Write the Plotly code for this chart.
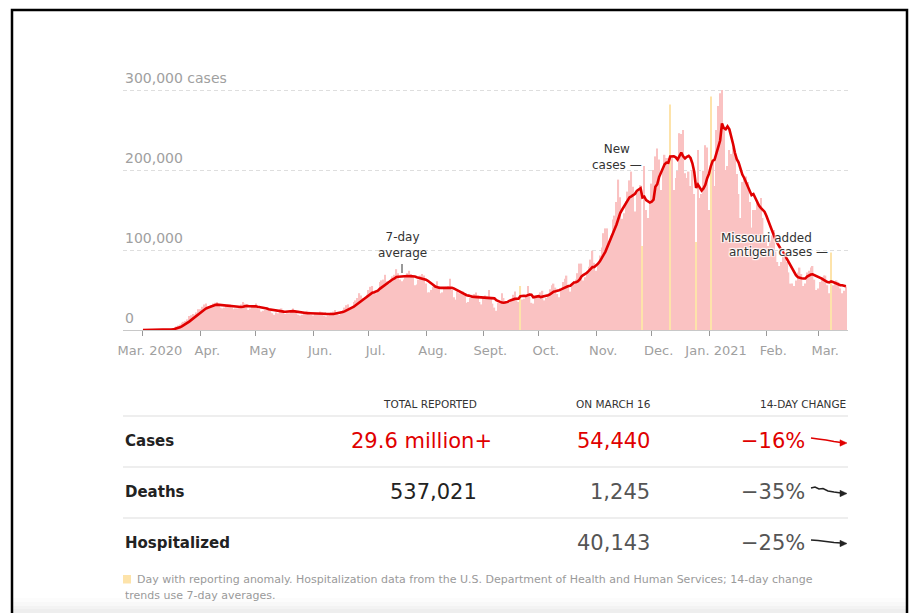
import numpy as np
import pandas as pd
import plotly.graph_objects as go

# ---------------- data (daily new cases, thousands) ----------------
mar20 = [0, 0, 0, 0, 0.1, 0.1, 0.1, 0.1, 0.2, 0.3, 0.4, 0.5, 0.6, 0.8, 0.9, 1.2, 1.8, 2.6, 4.5, 5.6, 6.8,
         9, 10.2, 11.3, 13.2, 17.5, 18.5, 20, 19.5, 22, 26]
apr20 = [26, 29, 32, 33, 27, 29, 31, 33, 34, 35, 31, 28, 27, 28, 30, 32, 32, 28, 26, 27,
         27, 29, 32, 35, 33, 28, 25, 27, 30, 31]
may20 = [33, 29, 26, 23, 24, 25, 28, 27, 26, 21, 19, 22, 21, 26, 27, 25, 20, 21, 21, 24,
         27, 25, 22, 19, 18, 19, 21, 23, 24, 23, 19]
jun20 = [18, 20, 20, 21, 23, 22, 18, 17, 18, 20, 22, 23, 25, 20, 19, 23, 25, 28, 31, 32,
         26, 27, 35, 37, 40, 46, 43, 40, 41, 44]
jul20 = [50, 54, 55, 47, 46, 48, 60, 62, 63, 69, 61, 58, 64, 67, 69, 76, 71, 63, 61, 63,
         68, 71, 74, 70, 66, 56, 57, 63, 68, 70, 68]
aug20 = [58, 47, 47, 50, 54, 56, 61, 55, 46, 47, 53, 54, 55, 64, 50, 41, 38, 48, 46, 46,
         48, 44, 34, 35, 40, 44, 45, 47, 43, 35, 32]
sep20 = [40, 43, 42, 50, 41, 33, 28, 24, 34, 34, 46, 40, 34, 33, 34, 39, 44, 48, 41, 35,
         55, 38, 39, 42, 55, 46, 34, 33, 41, 43]
oct20 = [44, 47, 49, 37, 40, 44, 51, 56, 58, 53, 45, 41, 51, 60, 64, 68, 56, 48, 58, 61,
         63, 71, 83, 83, 62, 66, 73, 79, 88, 99, 84]
nov20 = [74, 84, 93, 103, 121, 127, 127, 110, 118, 138, 143, 160, 188, 166, 139, 146, 161, 173, 187, 198,
         179, 148, 172, 176, 181, 105, 205, 150, 140, 158]
dec20 = [183, 200, 217, 227, 213, 175, 199, 219, 215, 215, 282, 215, 175, 190, 199, 246, 245, 250, 196, 190,
         198, 180, 200, 170, 110, 225, 165, 170, 199, 231, 228]
jan21 = [150, 292, 210, 180, 250, 280, 296, 300, 250, 200, 205, 225, 220, 228, 222, 195, 170, 140, 185, 190,
         192, 185, 160, 128, 150, 150, 160, 155, 165, 140, 115]
feb21 = [115, 105, 112, 118, 125, 98, 85, 80, 85, 92, 90, 85, 72, 58, 58, 55, 62, 72, 78, 70,
         55, 58, 72, 74, 78, 80, 63, 50]
mar21 = [52, 60, 66, 68, 68, 56, 46, 97, 56, 60, 62, 60, 52, 46, 49, 54.44]

anomaly_days = ["2020-09-21", "2020-11-26", "2020-12-11", "2020-12-25", "2021-01-02", "2021-03-08"]
backlog_days = ["2021-03-08"]  # backlog dump left out of the 7-day average

month_ticks = ["2020-03-01", "2020-04-01", "2020-05-01", "2020-06-01", "2020-07-01", "2020-08-01",
               "2020-09-01", "2020-10-01", "2020-11-01", "2020-12-01", "2021-01-01", "2021-02-01",
               "2021-03-01"]
month_labels = ["Mar. 2020", "Apr.", "May", "Jun.", "Jul.", "Aug.", "Sept.", "Oct.", "Nov.", "Dec.",
                "Jan. 2021", "Feb.", "Mar."]

y_ticks = [0, 100000, 200000, 300000]
y_labels = ["0", "100,000", "200,000", "300,000 cases"]

table_headers = ["TOTAL REPORTED", "ON MARCH 16", "14-DAY CHANGE"]
row_labels = ["Cases", "Deaths", "Hospitalized"]
totals = ["29.6 million+", "537,021", ""]
on_date = ["54,440", "1,245", "40,143"]
changes = ["\u221216%", "\u221235%", "\u221225%"]

footnote1 = "Day with reporting anomaly. Hospitalization data from the U.S. Department of Health and Human Services; 14-day change"
footnote2 = "trends use 7-day averages."

# ---------------- derived ----------------
daily = np.array(mar20 + apr20 + may20 + jun20 + jul20 + aug20 + sep20 + oct20 + nov20 + dec20
                 + jan21 + feb21 + mar21) * 1000
dates = pd.date_range("2020-03-01", periods=len(daily), freq="D")
s = pd.Series(daily, index=dates)
s_for_avg = s.where(~s.index.isin(pd.to_datetime(backlog_days)))
avg7 = s_for_avg.rolling(7, min_periods=1).mean()

PINK = "#fac2c2"
YELLOW = "#fde3aa"
RED = "#e00000"
anom = set(pd.to_datetime(anomaly_days))
bar_colors = [YELLOW if d in anom else PINK for d in dates]

# pixel -> paper helpers
W, H = 918, 613
L, R, T, B = 123, 848, 82, 330


def X(px):
    return (px - L) / (R - L)


def Y(py):
    return (B - py) / (B - T)


FONT = "DejaVu Sans"

fig = go.Figure()
fig.add_trace(go.Bar(x=dates, y=daily, marker=dict(color=bar_colors, line=dict(width=0)),
                     hoverinfo="skip", showlegend=False))
fig.add_trace(go.Scatter(x=dates, y=avg7.values, mode="lines", line=dict(color=RED, width=2.6),
                         hoverinfo="skip", showlegend=False))

annotations = []
shapes = []

# y labels above gridlines
for v, t in zip(y_ticks, y_labels):
    annotations.append(dict(x=0, xref="paper", y=v, yref="y", yshift=12, text=t, showarrow=False,
                            xanchor="left", yanchor="middle",
                            font=dict(family=FONT, size=14, color="#a0a0a0")))

halo = "1px 1px 1px #fff, -1px -1px 1px #fff, 1px -1px 1px #fff, -1px 1px 1px #fff, 0 0 2px #fff"
# chart annotations
annotations.append(dict(x=X(402), y=Y(245), xref="paper", yref="paper", text="7-day<br>average",
                        showarrow=False, xanchor="center", yanchor="middle", align="center",
                        font=dict(family=FONT, size=12, color="#333")))
shapes.append(dict(type="line", xref="paper", yref="paper", x0=X(402), x1=X(402), y0=Y(264), y1=Y(273),
                   line=dict(color="#333", width=1)))
annotations.append(dict(x=X(617), y=Y(157), xref="paper", yref="paper", text="New<br>cases \u2014",
                        showarrow=False, xanchor="center", yanchor="middle", align="center",
                        font=dict(family=FONT, size=12, color="#333", shadow=halo)))
annotations.append(dict(x=X(766), y=Y(238), xref="paper", yref="paper", text="Missouri added",
                        showarrow=False, xanchor="center", yanchor="middle",
                        font=dict(family=FONT, size=12, color="#333", shadow=halo)))
annotations.append(dict(x=X(778), y=Y(252), xref="paper", yref="paper", text="antigen cases \u2014",
                        showarrow=False, xanchor="center", yanchor="middle",
                        font=dict(family=FONT, size=12, color="#333", shadow=halo)))

# table
hdr_right = [479, 653, 848]
for t, xr in zip(table_headers, hdr_right):
    annotations.append(dict(x=X(xr), y=Y(404), xref="paper", yref="paper", text=t, showarrow=False,
                            xanchor="right", yanchor="middle",
                            font=dict(family=FONT, size=10.5, color="#333")))
for yy in [416, 467, 518]:
    shapes.append(dict(type="line", xref="paper", yref="paper", x0=X(123), x1=X(848), y0=Y(yy), y1=Y(yy),
                       line=dict(color="#dddddd", width=1)))
row_y = [441, 492, 543]
tot_colors = [RED, "#222", "#222"]
date_colors = [RED, "#555", "#555"]
chg_colors = [RED, "#555", "#555"]
tot_right = [494, 479, 479]
for i in range(3):
    yy = Y(row_y[i])
    annotations.append(dict(x=X(123), y=yy, xref="paper", yref="paper", text="<b>%s</b>" % row_labels[i],
                            showarrow=False, xanchor="left", yanchor="middle",
                            font=dict(family=FONT, size=15, color="#222")))
    if totals[i]:
        annotations.append(dict(x=X(tot_right[i]), y=yy, xref="paper", yref="paper", text=totals[i],
                                showarrow=False, xanchor="right", yanchor="middle",
                                font=dict(family=FONT, size=21, color=tot_colors[i])))
    annotations.append(dict(x=X(652), y=yy, xref="paper", yref="paper", text=on_date[i],
                            showarrow=False, xanchor="right", yanchor="middle",
                            font=dict(family=FONT, size=21, color=date_colors[i])))
    annotations.append(dict(x=X(807), y=yy, xref="paper", yref="paper", text=changes[i],
                            showarrow=False, xanchor="right", yanchor="middle",
                            font=dict(family=FONT, size=21, color=chg_colors[i])))


def path(pts, close=False):
    out = "M %f,%f " % (X(pts[0][0]), Y(pts[0][1]))
    for p in pts[1:]:
        out += "L %f,%f " % (X(p[0]), Y(p[1]))
    if close:
        out += "Z"
    return out


trend_arrows = [
    ([(811, 438), (818, 439), (826, 440), (834, 441.5), (841, 442.5)], (847, 443), RED),
    ([(811, 488), (815, 487), (819, 489), (823, 488.5), (828, 491), (834, 492), (841, 493)], (847, 493.5), "#222"),
    ([(811, 540), (818, 540.5), (826, 541.5), (834, 542.5), (841, 543)], (847, 543.5), "#222"),
]
for pts, tip, col in trend_arrows:
    shapes.append(dict(type="path", xref="paper", yref="paper", path=path(pts),
                       line=dict(color=col, width=1.6)))
    tx, ty = tip
    shapes.append(dict(type="path", xref="paper", yref="paper",
                       path=path([(tx, ty), (tx - 7, ty - 3.2), (tx - 7, ty + 3.2)], close=True),
                       fillcolor=col, line=dict(color=col, width=0.5)))

# footnote
shapes.append(dict(type="rect", xref="paper", yref="paper", x0=X(123), x1=X(131), y0=Y(583.5), y1=Y(575),
                   fillcolor=YELLOW, line=dict(width=0)))
annotations.append(dict(x=X(135), y=Y(579), xref="paper", yref="paper", text=footnote1, showarrow=False,
                        xanchor="left", yanchor="middle", font=dict(family=FONT, size=11, color="#9a9a9a")))
annotations.append(dict(x=X(123), y=Y(596), xref="paper", yref="paper", text=footnote2, showarrow=False,
                        xanchor="left", yanchor="middle", font=dict(family=FONT, size=11, color="#9a9a9a")))

# bottom shading and outer frame
for y0, a in [(598, 0.012), (602, 0.015), (606, 0.018), (609, 0.02)]:
    shapes.append(dict(type="rect", xref="paper", yref="paper", x0=X(13), x1=X(906), y0=Y(613), y1=Y(y0),
                       fillcolor="rgba(0,0,0,%f)" % a, line=dict(width=0), layer="below"))
shapes.append(dict(type="rect", xref="paper", yref="paper", x0=X(12), x1=X(907), y0=Y(625), y1=Y(10),
                   fillcolor="rgba(0,0,0,0)", line=dict(color="#000", width=2.5)))

fig.update_layout(
    width=W, height=H, autosize=False,
    margin=dict(l=L, r=W - R, t=T, b=H - B, pad=0),
    paper_bgcolor="white", plot_bgcolor="white",
    bargap=0.22,
    font=dict(family=FONT),
    annotations=annotations, shapes=shapes,
    xaxis=dict(type="date", range=["2020-02-19 05:00", "2021-03-17 03:00"],
               tickvals=month_ticks, ticktext=month_labels, ticks="outside", ticklen=5,
               tickcolor="#999", tickwidth=1, showline=True, linecolor="#c8c8c8", linewidth=1,
               showgrid=False, zeroline=False, ticklabelshift=7, ticklabelstandoff=3,
               tickfont=dict(family=FONT, size=13, color="#a0a0a0"), fixedrange=True),
    yaxis=dict(range=[0, 310000], tickvals=y_ticks, showticklabels=False, showgrid=True,
               gridcolor="#dedede", griddash="4px,3px", gridwidth=1, zeroline=False, showline=False,
               ticks="", fixedrange=True),
)

fig.write_html("out.html", config={"displayModeBar": False})
